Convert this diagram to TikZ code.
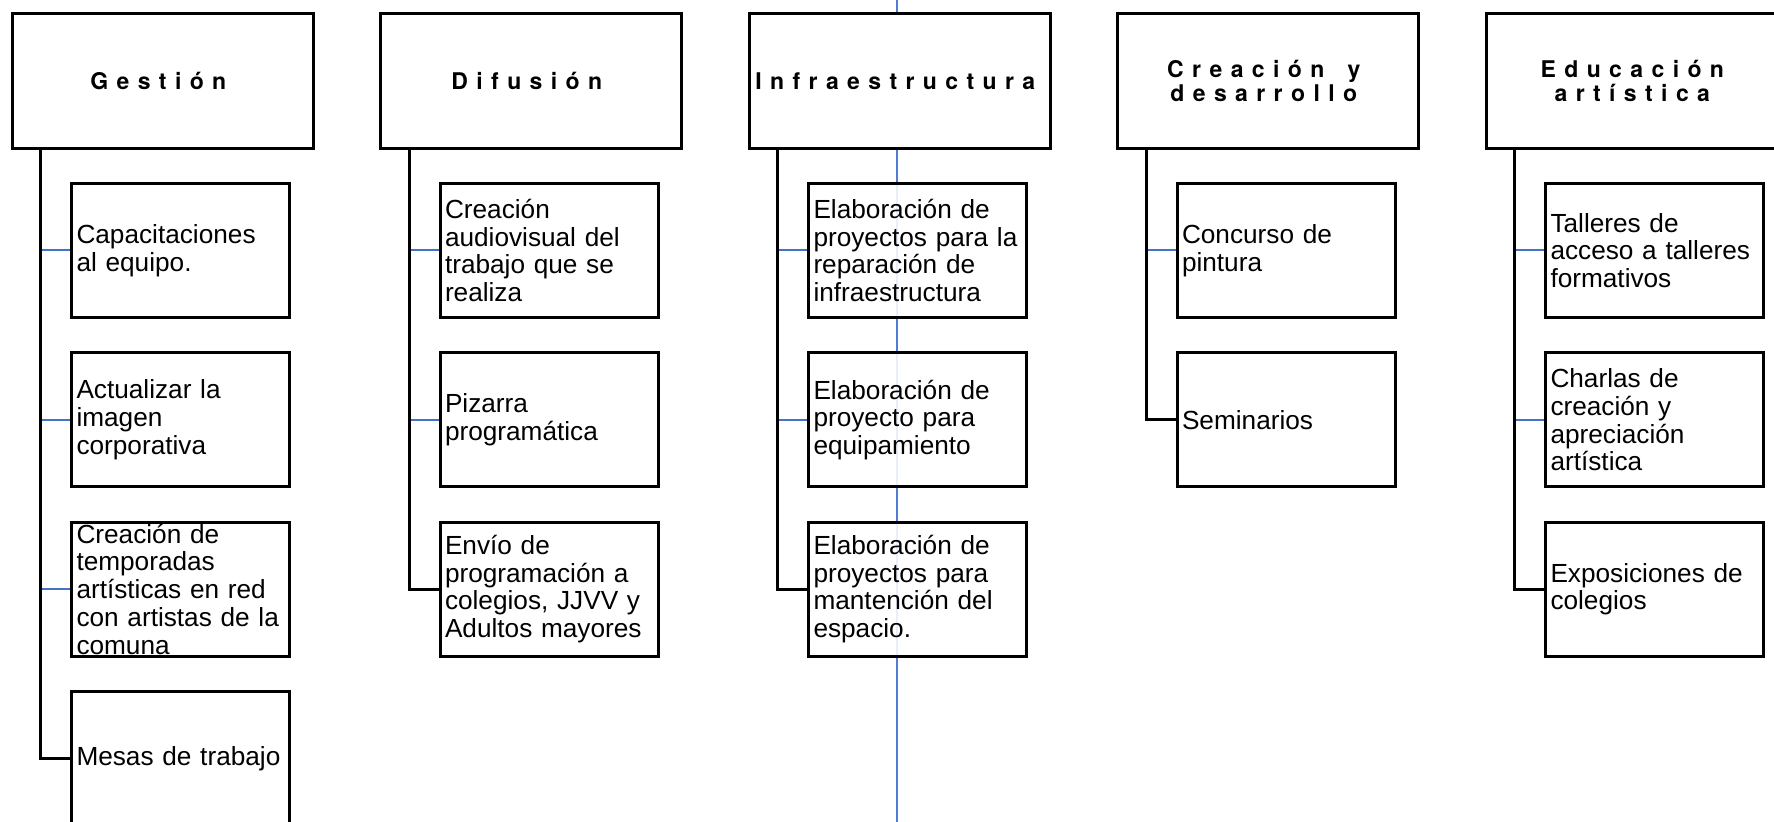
\documentclass[tikz,border=0pt]{standalone}
\usepackage{fontspec}
\setmainfont{Liberation Sans}
\newfontfamily\hdrfont{TeX Gyre Heros}
\def\spc#1{\spcA#1\relax}
\def\spcA#1{\ifx#1\relax\else#1\kern0.365em\expandafter\spcA\fi}
\definecolor{stubblue}{RGB}{68,114,196}
\definecolor{guideblue}{RGB}{80,125,210}
\begin{document}
\begin{tikzpicture}[x=0.5pt,y=-0.5pt,
  hdr/.style={draw=black, line width=1.5pt, fill=white, minimum width=150.5pt, minimum height=67.5pt, inner sep=0pt, align=center, anchor=north west, font=\hdrfont\bfseries\fontsize{11.5pt}{12pt}\selectfont},
  item/.style={draw=black, line width=1.5pt, fill=white, fill opacity=0.88, text opacity=1, minimum height=67pt, text width=104pt, inner xsep=2.5pt, inner ysep=0pt, align=left, anchor=north west, font=\fontsize{13.1pt}{13.85pt}\selectfont},
  stub/.style={draw=stubblue, line width=1pt},
  stem/.style={draw=black, line width=1.5pt},
  guide/.style={draw=guideblue, line width=0.6pt}]
\useasboundingbox (0,0) rectangle (1774,822);
% stray guide line
\coordinate (gtop) at (897,0);
\coordinate (gbot) at (897,822);
\draw[guide] (gtop) -- (gbot);

% headers
\node[hdr] (g) at (10.5,12) {\spc{Gestión}};
\node[hdr] (d) at (379,12) {\spc{Difusión}};
\node[hdr] (i) at (747.5,12) {\spc{Infraestructura}};
\node[hdr] (c) at (1116,12) {\spc{Creación}\ \kern0.365em\spc{y}\\\spc{desarrollo}};
\node[hdr] (e) at (1484.5,12) {\spc{Educación}\\\spc{artística}};

% children: Gestión
\node[item] (g1) at (70,182) {Capacitaciones\\al equipo.};
\node[item] (g2) at (70,351.3) {Actualizar la\\imagen\\corporativa};
\node[item] (g3) at (70,520.6) {Creación de\\temporadas\\artísticas en red\\con artistas de la\\comuna};
\node[item] (g4) at (70,689.9) {Mesas de trabajo};
% Difusión
\node[item] (d1) at (438.5,182) {Creación\\audiovisual del\\trabajo que se\\realiza};
\node[item] (d2) at (438.5,351.3) {Pizarra\\programática};
\node[item] (d3) at (438.5,520.6) {Envío de\\programación a\\colegios, JJVV y\\Adultos mayores};
% Infraestructura
\node[item] (i1) at (807,182) {Elaboración de\\proyectos para la\\reparación de\\infraestructura};
\node[item] (i2) at (807,351.3) {Elaboración de\\proyecto para\\equipamiento};
\node[item] (i3) at (807,520.6) {Elaboración de\\proyectos para\\mantención del\\espacio.};
% Creación y desarrollo
\node[item] (c1) at (1175.5,182) {Concurso de\\pintura};
\node[item] (c2) at (1175.5,351.3) {Seminarios};
% Educación artística
\node[item] (e1) at (1544,182) {Talleres de\\acceso a talleres\\formativos};
\node[item] (e2) at (1544,351.3) {Charlas de\\creación y\\apreciación\\artística};
\node[item] (e3) at (1544,520.6) {Exposiciones de\\colegios};

% stems
\coordinate (gs) at ([xshift=15pt]g.south west);
\coordinate (ds) at ([xshift=15pt]d.south west);
\coordinate (is) at ([xshift=15pt]i.south west);
\coordinate (cs) at ([xshift=15pt]c.south west);
\coordinate (es) at ([xshift=15pt]e.south west);

\draw[stub] (gs |- g1.west) -- (g1.west);
\draw[stub] (gs |- g2.west) -- (g2.west);
\draw[stub] (gs |- g3.west) -- (g3.west);
\draw[stem] (gs) |- (g4.west);

\draw[stub] (ds |- d1.west) -- (d1.west);
\draw[stub] (ds |- d2.west) -- (d2.west);
\draw[stem] (ds) |- (d3.west);

\draw[stub] (is |- i1.west) -- (i1.west);
\draw[stub] (is |- i2.west) -- (i2.west);
\draw[stem] (is) |- (i3.west);

\draw[stub] (cs |- c1.west) -- (c1.west);
\draw[stem] (cs) |- (c2.west);

\draw[stub] (es |- e1.west) -- (e1.west);
\draw[stub] (es |- e2.west) -- (e2.west);
\draw[stem] (es) |- (e3.west);
\end{tikzpicture}
\end{document}
